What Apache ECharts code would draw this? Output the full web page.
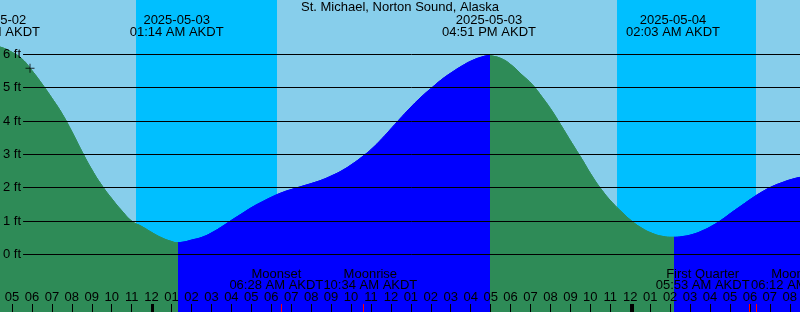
<!DOCTYPE html>
<html><head><meta charset="utf-8">
<script src="https://cdn.jsdelivr.net/npm/echarts@6/dist/echarts.min.js"></script>
<style>html,body{margin:0;padding:0;background:#87CEEB;overflow:hidden}#c{width:800px;height:312px}</style>
</head><body><div id="c"></div>
<script>
// ---- data (hours are relative to 2025-05-03 00:00 AKDT) ----
const chartTitle = 'St. Michael, Norton Sound, Alaska';
const tideHours = [
  -7.95, -7.5, -7, -6.5, -6, -5.5, -5, -4.5, -4, -3.5, -3, -2.5, -2, -1.5, -1, -0.5, 0, 0.5, 1, 1.233,
  1.5, 2, 2.5, 3, 3.5, 4, 4.5, 5, 5.5, 6, 6.5, 7, 7.5, 8, 8.5, 9, 9.5, 10, 10.5, 11, 11.5, 12, 12.5, 13, 13.5, 14, 14.5, 15, 15.5, 16, 16.5, 16.85,
  17, 17.5, 18, 18.5, 19, 19.5, 20, 20.5, 21, 21.5, 22, 22.5, 23, 23.5, 24, 24.5, 25, 25.5, 26.05,
  26.5, 27, 27.5, 28, 28.5, 29, 29.5, 30, 30.5, 31, 31.5, 32, 32.5, 33];
const tideFeet = [
  6.26, 6.2, 6.06, 5.86, 5.51, 5.11, 4.68, 4.22, 3.67, 3.08, 2.53, 2.06, 1.66, 1.3, 0.99, 0.83, 0.65, 0.49, 0.38, 0.35,
  0.36, 0.43, 0.51, 0.65, 0.83, 1.03, 1.22, 1.41, 1.57, 1.72, 1.85, 1.95, 2.04, 2.13, 2.23, 2.36, 2.51, 2.7, 2.92, 3.17, 3.47, 3.8, 4.13, 4.45, 4.74, 5.0, 5.25, 5.46, 5.65, 5.81, 5.92, 5.96,
  5.95, 5.86, 5.66, 5.38, 5.1, 4.72, 4.3, 3.82, 3.33, 2.85, 2.35, 1.92, 1.56, 1.26, 0.99, 0.78, 0.63, 0.54, 0.51,
  0.53, 0.59, 0.7, 0.85, 1.04, 1.26, 1.47, 1.68, 1.87, 2.03, 2.15, 2.25, 2.32, 2.37];
const tideEventHours = [-7.95, 1.233, 16.85, 26.05];
const tideEventKinds = ['high', 'low', 'high', 'low'];
const tideEventDates = ['2025-05-02', '2025-05-03', '2025-05-03', '2025-05-04'];
const tideEventClock = ['04:03 PM AKDT', '01:14 AM AKDT', '04:51 PM AKDT', '02:03 AM AKDT'];
const moonEventHours = [6.467, 10.567, 29.883, 30.2];
const moonEventNames = ['Moonset', 'Moonrise', 'First Quarter', 'Moonrise'];
const moonEventClock = ['06:28 AM AKDT', '10:34 AM AKDT', '05:53 AM AKDT', '06:12 AM AKDT'];
const nightStart = [-0.8, 23.25];
const nightEnd = [6.25, 30.2];
const midnightHours = [0, 24];
const hourAxisMin = -7, hourAxisMax = 32, hourStep = 1;   // first / last labelled hour
const depthTicks = [0, 1, 2, 3, 4, 5, 6];
const markerHour = -6.1;
const markerFeet = 5.58;

// ---- view / style ----
const viewStart = -7.6, viewEnd = 32.4;
const PX_PER_HOUR = 20;
const FAMILY = '"Liberation Sans", Arial, sans-serif';
const FONT = '13px ' + FAMILY;
const FALL = '#2E8B57', RISE = '#0000FF';
const moonLabelShift = [-5, 7, -47, 42];
const colourLag = 0.07; // hours

const pieces = [];
tideEventHours.forEach((t, i) => {
  const next = tideEventHours[i + 1];
  const p = { gte: t + colourLag, color: tideEventKinds[i] === 'high' ? FALL : RISE };
  if (next !== undefined) p.lt = next + colourLag;
  pieces.push(p);
});
pieces.unshift({ lt: tideEventHours[0] + colourLag, color: RISE });

const tideData = tideHours.map((t, i) => [t, tideFeet[i]]);

function hourLabel(h) {
  let k = ((h % 12) + 12) % 12;
  if (k === 0) k = 12;
  return String(k).padStart(2, '0');
}

const chart = echarts.init(document.getElementById('c'), null, { renderer: 'canvas' });
const fullGrid = () => ({ left: 0, right: 0, top: 0, bottom: 0 });
// hour grid spans exactly the whole hours inside the view
const hourGrid = {
  left: (hourAxisMin - viewStart) * PX_PER_HOUR, right: (viewEnd - hourAxisMax) * PX_PER_HOUR, top: 0, bottom: 0
};
function tickAxis(grid, values, color, width) {
  return {
    gridIndex: grid, type: 'value', position: 'bottom', min: viewStart, max: viewEnd, z: 10,
    axisLine: { show: false, onZero: false }, splitLine: { show: false },
    axisTick: { show: true, inside: true, length: 8, customValues: values.slice(), lineStyle: { color: color, width: width } },
    axisLabel: { show: false }
  };
}
const hiddenY = g => ({ gridIndex: g, type: 'value', min: -1.731, max: 7.629, show: false });

chart.setOption({
  backgroundColor: '#87CEEB',
  animation: false,
  grid: [fullGrid(), { left: 22, right: 0, top: 54.3, bottom: 57.7 }, fullGrid(), fullGrid(), hourGrid],
  xAxis: [
    { gridIndex: 0, type: 'value', position: 'bottom', min: viewStart, max: viewEnd, show: false,
      axisLine: { show: false, onZero: false } },
    { gridIndex: 1, type: 'value', min: viewStart, max: viewEnd, show: false,
      axisLine: { show: false, onZero: false }, axisTick: { show: false }, axisLabel: { show: false }, splitLine: { show: false } },
    tickAxis(2, midnightHours, '#000', 3),
    tickAxis(3, moonEventHours, '#ff0000', 1),
    { gridIndex: 4, type: 'value', position: 'bottom', min: hourAxisMin, max: hourAxisMax, interval: hourStep, z: 10,
      axisLine: { show: false, onZero: false }, splitLine: { show: false },
      axisTick: { show: true, inside: true, length: 8, lineStyle: { color: '#000', width: 1 } },
      axisLabel: { show: true, inside: true, margin: 14.5, verticalAlign: 'middle', showMinLabel: true, showMaxLabel: true,
        formatter: hourLabel, color: '#000', fontSize: 13, fontFamily: FAMILY } }
  ],
  yAxis: [
    hiddenY(0),
    { gridIndex: 1, type: 'value', min: 0, max: 6, interval: 1, z: 10,
      axisLine: { show: false }, axisTick: { show: false },
      splitLine: { show: true, lineStyle: { color: '#000', width: 1 } },
      axisLabel: { show: true, margin: 2, formatter: v => depthTicks.indexOf(v) >= 0 ? v + ' ft' : '',
        color: '#000', fontSize: 13, fontFamily: FAMILY } },
    hiddenY(2), hiddenY(3), hiddenY(4)
  ],
  visualMap: { type: 'piecewise', show: false, dimension: 0, seriesIndex: 1, pieces: pieces },
  series: [
    { name: 'night', type: 'line', xAxisIndex: 0, yAxisIndex: 0, data: [], z: 1, silent: true,
      markArea: { silent: true, itemStyle: { color: '#00BFFF', opacity: 1 },
        data: nightStart.map((s, i) => [{ xAxis: s }, { xAxis: nightEnd[i] }]) } },
    { name: 'tide', type: 'line', xAxisIndex: 0, yAxisIndex: 0, data: tideData, smooth: 0.5,
      symbol: 'none', z: 3, lineStyle: { width: 1 }, areaStyle: { opacity: 1, origin: 'start' } },
    { name: 'marker', type: 'scatter', xAxisIndex: 0, yAxisIndex: 0, data: [[markerHour, markerFeet]], z: 6,
      symbol: 'path://M4,0h1v9h-1z M0,4h9v1h-9z', symbolSize: 9, itemStyle: { color: '#000' } }
  ]
});

const px = h => chart.convertToPixel({ xAxisIndex: 0 }, h);
const txt = (text, x, y) => ({ type: 'text', x: x, y: y, z: 100, silent: true,
  style: { text: text, fill: '#000', font: FONT, align: 'center', verticalAlign: 'middle' } });
const g = [txt(chartTitle, 400, 7.5)];
tideEventHours.forEach((t, i) => {
  const x = px(t);
  g.push(txt(tideEventDates[i], x, 20.5));
  g.push(txt(tideEventClock[i], x, 32.2));
});
moonEventHours.forEach((t, i) => {
  const x = px(t) + moonLabelShift[i];
  g.push(txt(moonEventNames[i], x, 274.2));
  g.push(txt(moonEventClock[i], x, 285.5));
});
chart.setOption({ graphic: g });
</script></body></html>
